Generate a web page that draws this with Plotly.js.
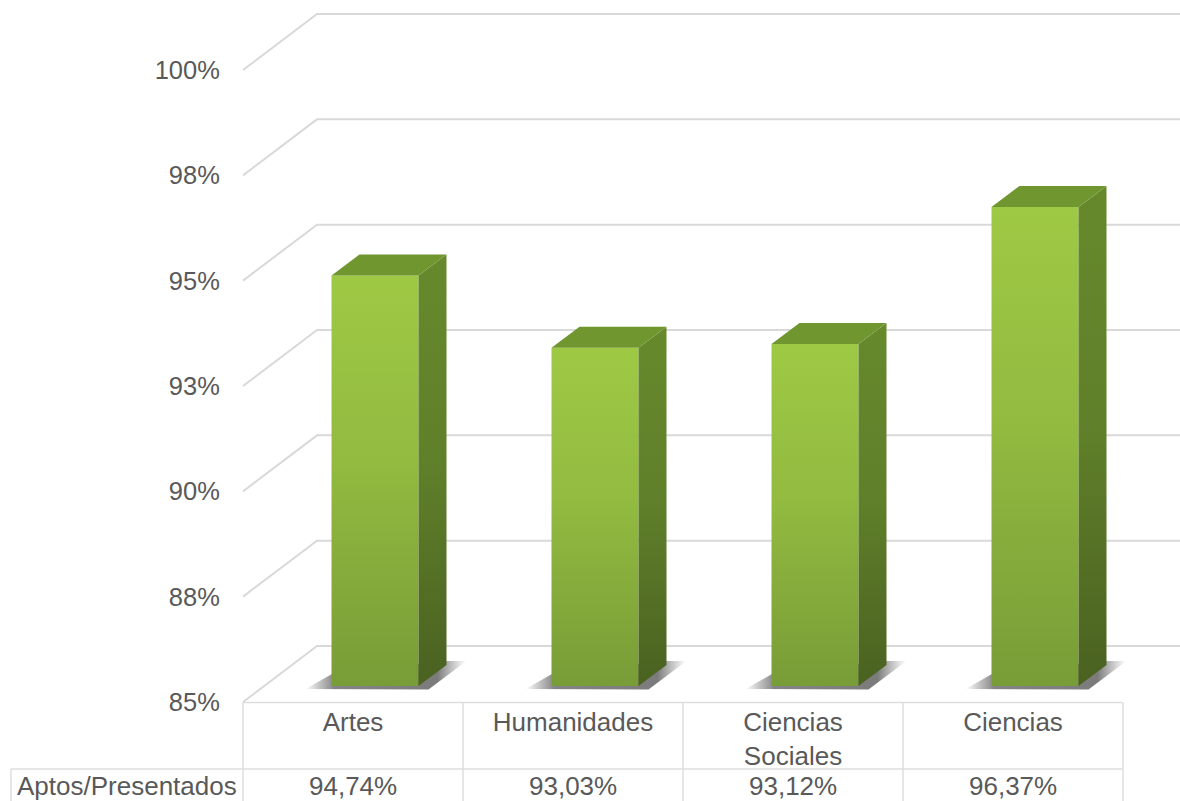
<!DOCTYPE html>
<html>
<head>
<meta charset="utf-8">
<script src="https://cdn.plot.ly/plotly-3.0.1.min.js"></script>
<style>html,body{margin:0;padding:0;background:#fff;overflow:hidden}#chart{width:1180px;height:801px}</style>
</head>
<body>
<div id="chart"></div>
<script>
// ---- data ----
const categories = ['Artes', 'Humanidades', 'Ciencias<br>Sociales', 'Ciencias'];
const aptosPresentados = [94.74, 93.03, 93.12, 96.37];
const rowLabel = 'Aptos/Presentados';
const yTickValues = [85, 87.5, 90, 92.5, 95, 97.5, 100];
const yTickLabels = ['85%', '88%', '90%', '93%', '95%', '98%', '100%'];

// ---- page geometry ----
const W = 1180, H = 801;
const colW = 220, col0 = 353, yFront85 = 702, pxPerUnit = 632 / 15;
const barCol0 = 375, yBar85 = 686, barW = 87;
const wx = p => p / colW, wy = p => p / pxPerUnit;   // pixel lengths to axis units
const idx = categories.map((_, i) => i);
const textFont = {family: '"Liberation Sans", Arial, sans-serif', size: 26, color: '#595959'};
const yFont = {family: '"Liberation Sans", Arial, sans-serif', size: 25.5, color: '#595959'};
const gridColor = '#d9d9d9';

const traces = [];

// walls and floor gridlines (main axes)
const gx = [], gy = [];
const xFront = -(col0 - 243) / colW, xBack = -(col0 - 317) / colW, xEnd = (W - col0) / colW;
yTickValues.forEach(v => {
  gx.push(xFront, xBack, xEnd, null);
  gy.push(v, v + wy(56), v + wy(56), null);
});
traces.push({type: 'scatter', mode: 'lines', x: gx, y: gy, xaxis: 'x', yaxis: 'y',
  line: {color: gridColor, width: 2}, hoverinfo: 'skip', showlegend: false});

// floor shadows (main axes, so they stay below the bars)
idx.forEach(i => {
  const c = i + wx(22), hw = wx(barW / 2), b = 85;
  const xs = [c - hw - wx(26), c - hw + wx(4), c + hw + wx(28), c + hw + wx(48), c + hw + wx(10)];
  const ys = [b + wy(13), b + wy(30), b + wy(41), b + wy(41), b + wy(12.5)];
  traces.push({type: 'scatter', mode: 'lines', x: xs.concat(xs[0]), y: ys.concat(ys[0]),
    xaxis: 'x', yaxis: 'y', fill: 'toself', line: {width: 0, color: 'rgba(0,0,0,0)'},
    fillgradient: {type: 'horizontal', start: xs[0], stop: xs[3],
      colorscale: [[0, 'rgba(110,110,110,0)'], [0.18, 'rgba(110,110,110,0.85)'], [0.82, 'rgba(100,100,100,0.85)'], [1, 'rgba(125,125,125,0)']]},
    hoverinfo: 'skip', showlegend: false});
});

// front faces
traces.push({type: 'bar', name: rowLabel, x: idx, y: aptosPresentados.map(v => v - 85), base: 85,
  width: barW / colW, xaxis: 'x2', yaxis: 'y2', marker: {color: '#8cb33f', line: {width: 0}},
  hovertemplate: '%{customdata}<extra></extra>',
  customdata: aptosPresentados.map(v => v.toFixed(2).replace('.', ',') + '%'), showlegend: false});

// side and top faces
const dx = wx(28), dy = wy(21), hw = wx(barW / 2);
idx.forEach(i => {
  const v = aptosPresentados[i], l = i - hw, r = i + hw;
  traces.push({type: 'scatter', mode: 'lines', xaxis: 'x2', yaxis: 'y2',
    x: [r, r + dx, r + dx, r, r], y: [v, v + dy, 85 + dy, 85, v], fill: 'toself',
    line: {width: 0, color: 'rgba(0,0,0,0)'},
    fillgradient: {type: 'vertical', start: v + dy, stop: 85,
      colorscale: [[0, '#67892c'], [0.5, '#5f7f2a'], [1, '#4a6120']]},
    hoverinfo: 'skip', showlegend: false});
  traces.push({type: 'scatter', mode: 'lines', xaxis: 'x2', yaxis: 'y2',
    x: [l, l + dx, r + dx, r, l], y: [v, v + dy, v + dy, v, v], fill: 'toself',
    fillcolor: '#70962f', line: {width: 0, color: 'rgba(0,0,0,0)'},
    hoverinfo: 'skip', showlegend: false});
});

// table lines
const line = (x0, y0, x1, y1) => ({type: 'line', xref: 'paper', yref: 'paper',
  x0: x0 / W, x1: x1 / W, y0: 1 - y0 / H, y1: 1 - y1 / H,
  line: {color: '#dedede', width: 1.5}, layer: 'below'});
const shapes = [
  line(243, 702.5, 1123, 702.5),
  line(11, 769, 1123, 769),
  line(11, 769, 11, 801)
];
for (let i = 0; i <= categories.length; i++) shapes.push(line(243 + colW * i, 702.5, 243 + colW * i, 801));

// table values
const annotations = [{text: rowLabel, xref: 'paper', yref: 'paper', x: 126.5 / W, y: 1 - 785.5 / H,
  showarrow: false, font: textFont, xanchor: 'center', yanchor: 'middle'}];
idx.forEach(i => annotations.push({text: aptosPresentados[i].toFixed(2).replace('.', ',') + '%',
  xref: 'x', yref: 'paper', x: i, y: 1 - 785.5 / H, showarrow: false, font: textFont,
  xanchor: 'center', yanchor: 'middle'}));

const layout = {
  width: W, height: H, margin: {l: 0, r: 0, t: 0, b: 0},
  paper_bgcolor: '#fff', plot_bgcolor: 'rgba(0,0,0,0)', showlegend: false, barmode: 'overlay',
  xaxis: {range: [-col0 / colW, (W - col0) / colW], anchor: 'free', position: (H - yFront85) / H,
    tickmode: 'array', tickvals: idx, ticktext: categories, tickfont: textFont, tickangle: 0,
    showgrid: false, zeroline: false, showline: false, ticks: '', ticklabelstandoff: 2},
  yaxis: {range: [85 - (H - yFront85) / pxPerUnit, 85 + yFront85 / pxPerUnit], anchor: 'free', position: 243 / W,
    tickmode: 'array', tickvals: yTickValues, ticktext: yTickLabels, tickfont: yFont,
    showgrid: false, zeroline: false, showline: false, ticks: 'outside', ticklen: 18, tickcolor: 'rgba(0,0,0,0)'},
  xaxis2: {overlaying: 'x', range: [-barCol0 / colW, (W - barCol0) / colW], visible: false, anchor: 'y2'},
  yaxis2: {overlaying: 'y', range: [85 - (H - yBar85) / pxPerUnit, 85 + yBar85 / pxPerUnit], visible: false, anchor: 'x2'},
  shapes, annotations
};

function paintBars(gd) {
  const svg = gd.querySelector('svg.main-svg');
  const NS = 'http://www.w3.org/2000/svg';
  if (!svg.querySelector('#barFront')) {
    const defs = svg.querySelector('defs');
    const g = document.createElementNS(NS, 'linearGradient');
    g.setAttribute('id', 'barFront');
    g.setAttribute('x1', '0'); g.setAttribute('y1', '0'); g.setAttribute('x2', '0'); g.setAttribute('y2', '1');
    [['0%', '#9ec944'], ['45%', '#92bb40'], ['100%', '#789c37']].forEach(s => {
      const st = document.createElementNS(NS, 'stop');
      st.setAttribute('offset', s[0]); st.setAttribute('stop-color', s[1]);
      g.appendChild(st);
    });
    defs.appendChild(g);
  }
  gd.querySelectorAll('.barlayer .point path').forEach(p => { p.style.fill = 'url(#barFront)'; });
}

const gd = document.getElementById('chart');
Plotly.newPlot(gd, traces, layout, {displayModeBar: false, staticPlot: true}).then(() => {
  paintBars(gd);
  gd.on('plotly_afterplot', () => paintBars(gd));
});
</script>
</body>
</html>
